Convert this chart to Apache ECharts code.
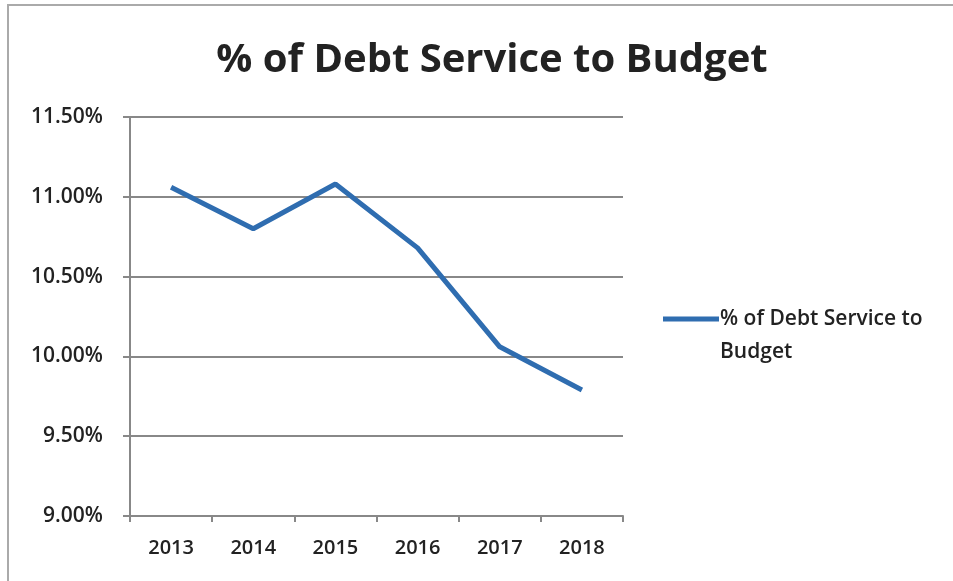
<!DOCTYPE html>
<html><head><meta charset="utf-8">
<script src="https://cdn.jsdelivr.net/npm/echarts@6/dist/echarts.min.js"></script>
<style>html,body{margin:0;padding:0;background:#fff}#c{width:953px;height:581px}</style>
</head><body><div id="c"></div>
<script>
const titleText = '% of Debt Service to Budget';
const seriesName = '% of Debt Service to Budget';
const categories = ['2013','2014','2015','2016','2017','2018'];
const values = [11.06, 10.80, 11.08, 10.68, 10.06, 9.79];
const yTicks = [9.0, 9.5, 10.0, 10.5, 11.0, 11.5];

const chart = echarts.init(document.getElementById('c'));
const font = '"Open Sans", "Liberation Sans", sans-serif';
chart.setOption({
  animation: false,
  title: {
    text: titleText, left: 487, top: 36, textAlign: 'center',
    textStyle: {fontFamily: font, fontSize: 40, fontWeight: 'bold', color: '#222'}
  },
  grid: {left: 130, right: 330, top: 117, bottom: 65, containLabel: false},
  xAxis: {
    type: 'category', data: categories, boundaryGap: true,
    axisLine: {lineStyle: {color: '#888', width: 2}},
    axisTick: {show: true, alignWithLabel: false, length: 6, lineStyle: {color: '#888', width: 2}},
    axisLabel: {fontFamily: font, fontSize: 20, fontWeight: 600, color: '#222', margin: 22}
  },
  yAxis: {
    type: 'value', min: yTicks[0], max: yTicks[yTicks.length-1], interval: 0.5,
    axisLine: {show: true, lineStyle: {color: '#888', width: 2}},
    axisTick: {show: true, length: 7, lineStyle: {color: '#888', width: 2}},
    splitLine: {lineStyle: {color: '#888', width: 2}},
    axisLabel: {fontFamily: font, fontSize: 21, fontWeight: 600, color: '#222', margin: 27,
      formatter: v => v.toFixed(2) + '%'}
  },
  legend: {show: false},
  series: [{
    name: seriesName, type: 'line', data: values, symbol: 'none',
    lineStyle: {color: '#2f6db0', width: 5}
  }],
  graphic: [
    {type: 'rect', shape: {x: 8, y: 5, width: 960, height: 600},
     style: {fill: 'none', stroke: '#aaa', lineWidth: 2}, silent: true},
    {type: 'line', shape: {x1: 663, y1: 319, x2: 719, y2: 319},
     style: {stroke: '#2f6db0', lineWidth: 5}},
    {type: 'text', x: 720, y: 303,
     style: {text: seriesName.replace(' to Budget', ' to\nBudget'), font: '600 21px ' + font, fill: '#222', lineHeight: 33}}
  ]
});
</script></body></html>
